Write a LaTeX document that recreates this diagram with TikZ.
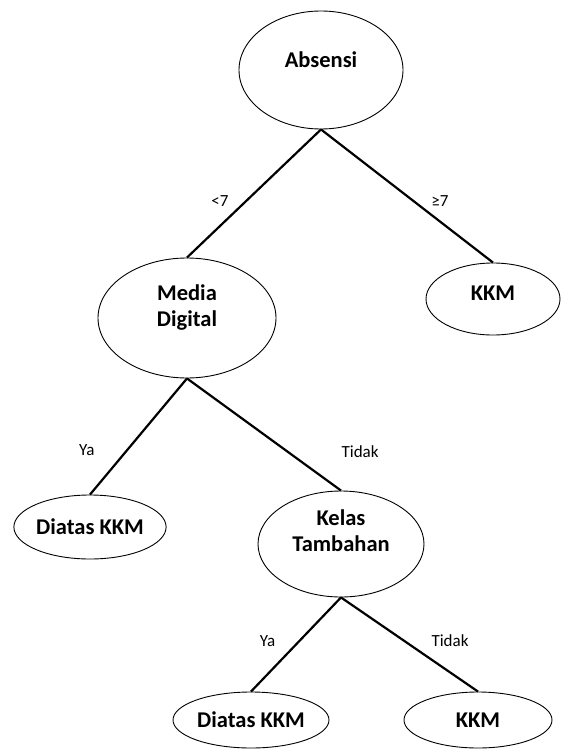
\documentclass[tikz,border=0pt]{standalone}
\usepackage{fontspec}
\setmainfont{Carlito}
\usetikzlibrary{shapes.geometric}

\begin{document}
\begin{tikzpicture}[x=1pt, y=-1pt,
    main/.style = {draw, ellipse, line width=0.9pt, inner sep=0pt, align=center,
        font=\fontsize{22.5}{26}\selectfont\bfseries},
    lbl/.style = {inner sep=0pt, font=\fontsize{17}{20}\selectfont},
    edge/.style = {line width=2.2pt}]
        \useasboundingbox (0,0) rectangle (560,749);

        \node[main, minimum width=164pt, minimum height=118pt, text depth=21pt] (1) at (321,70) {Absensi};
        \node[main, minimum width=178pt, minimum height=120pt, text depth=25pt] (2) at (187,318) {Media\\Digital};
        \node[main, minimum width=134pt, minimum height=72pt, text depth=12pt] (3) at (493,299) {KKM};
        \node[main, minimum width=152pt, minimum height=64pt] (4) at (90,527) {Diatas KKM};
        \node[main, minimum width=166pt, minimum height=106pt, text depth=27pt] (5) at (341,544) {Kelas\\Tambahan};
        \node[main, minimum width=156pt, minimum height=56pt] (6) at (251,720) {Diatas KKM};
        \node[main, minimum width=148pt, minimum height=56pt] (7) at (478,720) {KKM};

        \draw[edge] (1.south) -- (2.north) node [lbl, pos=0.56, xshift=-26pt] (a) {<7};
        \draw[edge] (1.south) -- (3.north) node [lbl, pos=0.54, xshift=26pt] (b) {≥7};
        \draw[edge] (2.south) -- (4.north) node [lbl, pos=0.62, xshift=-40pt] (c) {Ya};
        \draw[edge] (2.south) -- (5.north) node [lbl, pos=0.65, xshift=73pt] (d) {Tidak};
        \draw[edge] (5.south) -- (6.north) node [lbl, pos=0.46, xshift=-32pt] (e) {Ya};
        \draw[edge] (5.south) -- (7.north) node [lbl, pos=0.46, xshift=46pt] (f) {Tidak};

    \end{tikzpicture}
\end{document}
